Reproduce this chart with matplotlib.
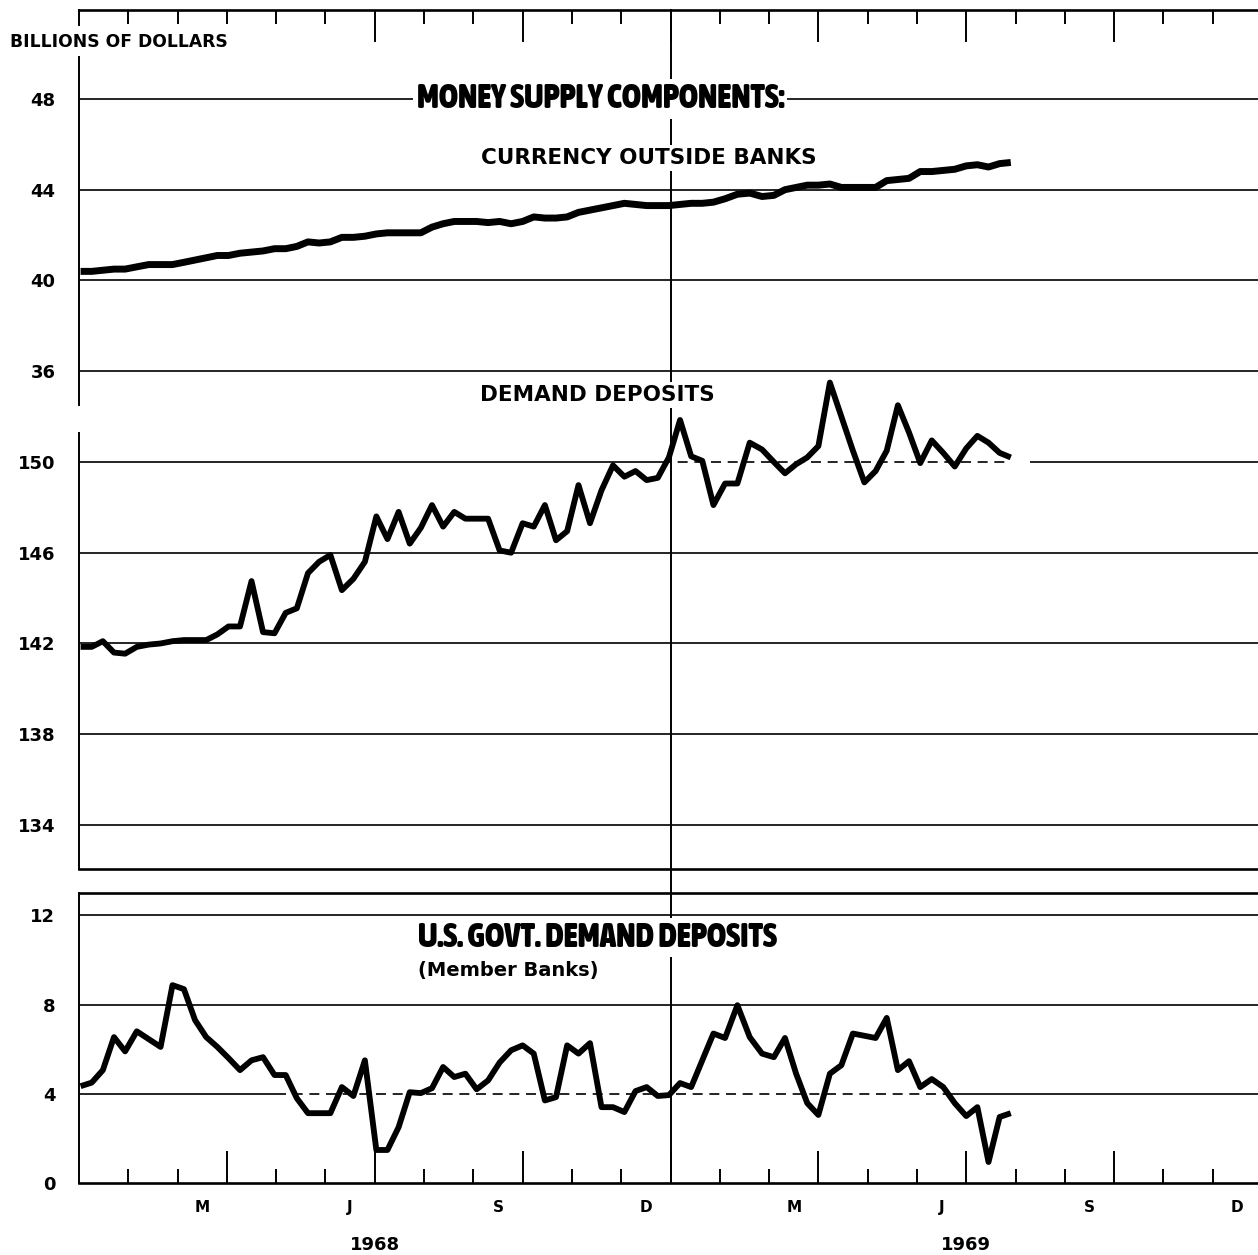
import numpy as np
import pandas as pd
import matplotlib
matplotlib.use("Agg")
import matplotlib.pyplot as plt
from matplotlib import font_manager

plt.rcParams['font.family'] = ['DejaVu Sans']
plt.rcParams['font.weight'] = 'bold'

# weekly figures, billions of dollars (first week of Jan 1968 -> end of Jul 1969)
currency = [40.4, 40.4, 40.45, 40.5, 40.5, 40.6, 40.7, 40.7, 40.7, 40.8,
            40.9, 41.0, 41.1, 41.1, 41.2, 41.25, 41.3, 41.4, 41.4, 41.5,
            41.7, 41.65, 41.7, 41.9, 41.9, 41.95, 42.05, 42.1, 42.1, 42.1,
            42.1, 42.35, 42.5, 42.6, 42.6, 42.6, 42.55, 42.6, 42.5, 42.6,
            42.8, 42.75, 42.75, 42.8, 43.0, 43.1, 43.2, 43.3, 43.4, 43.35,
            43.3, 43.3, 43.3, 43.35, 43.4, 43.4, 43.45, 43.6, 43.8, 43.85,
            43.7, 43.75, 44.0, 44.1, 44.2, 44.2, 44.25, 44.1, 44.1, 44.1,
            44.1, 44.4, 44.45, 44.5, 44.8, 44.8, 44.85, 44.9, 45.05, 45.1,
            45.0, 45.15, 45.2]
demand_dep = [141.85, 141.85, 142.1, 141.6, 141.55, 141.85, 141.95, 142.0, 142.1, 142.15,
              142.15, 142.15, 142.4, 142.75, 142.75, 144.75, 142.5, 142.45, 143.35, 143.55,
              145.1, 145.6, 145.9, 144.35, 144.85, 145.6, 147.6, 146.6, 147.8, 146.4,
              147.1, 148.1, 147.15, 147.8, 147.5, 147.5, 147.5, 146.1, 146.0, 147.3,
              147.15, 148.1, 146.55, 146.95, 148.98, 147.3, 148.75, 149.85, 149.35, 149.6,
              149.2, 149.3, 150.2, 151.85, 150.25, 150.05, 148.1, 149.05, 149.05, 150.85,
              150.55, 150.0, 149.5, 149.9, 150.2, 150.7, 153.5, 152.0, 150.5, 149.1,
              149.6, 150.5, 152.5, 151.3, 149.95, 150.95, 150.4, 149.8, 150.6, 151.15,
              150.85, 150.4, 150.2]
govt_dep = [4.34, 4.5, 5.06, 6.54, 5.9, 6.8, 6.45, 6.1, 8.87, 8.69,
            7.3, 6.54, 6.1, 5.6, 5.06, 5.5, 5.64, 4.84, 4.84, 3.8,
            3.13, 3.13, 3.13, 4.3, 3.9, 5.5, 1.48, 1.48, 2.5, 4.07,
            4.03, 4.25, 5.2, 4.75, 4.9, 4.2, 4.6, 5.4, 5.95, 6.17,
            5.8, 3.7, 3.85, 6.17, 5.8, 6.27, 3.4, 3.4, 3.18, 4.12,
            4.3, 3.9, 3.94, 4.48, 4.3, 5.5, 6.7, 6.5, 7.97, 6.54,
            5.8, 5.64, 6.5, 4.9, 3.58, 3.05, 4.9, 5.28, 6.7, 6.6,
            6.5, 7.4, 5.06, 5.46, 4.3, 4.66, 4.3, 3.58, 3.0, 3.4,
            0.94, 2.96, 3.13]

currency_ticks = [36, 40, 44, 48]
demand_ticks = [134, 138, 142, 146, 150]
govt_ticks = [0, 4, 8, 12]
month_labels = ['M', 'J', 'S', 'D', 'M', 'J', 'S', 'D']
month_label_pos = [2.5, 5.5, 8.5, 11.5, 14.5, 17.5, 20.5, 23.5]
years = ['1968', '1969']
year_pos = [6, 18]

# x axis in months since Jan 1968
dates = pd.date_range('1968-01-02', periods=len(currency), freq='7D')
x = (dates.year - 1968) * 12 + dates.month - 1 + (dates.day - 1) / dates.days_in_month
x = np.asarray(x, dtype=float)

# a narrow heavy face for the two big headings, if one is installed
def pick_condensed():
    best = None
    for f in font_manager.fontManager.ttflist:
        nm = (f.name + ' ' + str(f.fname)).lower()
        narrow = f.stretch in ('condensed', 'semi-condensed', 'extra-condensed') or 'condensed' in nm or 'narrow' in nm
        w = f.weight if isinstance(f.weight, int) else 700
        if narrow and w >= 600 and 'italic' not in nm and 'oblique' not in nm:
            if best is None or w > best[0]:
                best = (w, f.fname)
    if best:
        return font_manager.FontProperties(fname=best[1])
    return font_manager.FontProperties(family='Roboto', weight=900)

head_font = pick_condensed()

W, H = 1258, 1255
fig = plt.figure(figsize=(W / 100, H / 100), dpi=100)

left = 79 / W
width = (1262 - 79) / W
ax = fig.add_axes([left, 1 - 869 / H, width, (869 - 10) / H])
ax2 = ax.twinx()
axb = fig.add_axes([left, 1 - 1183 / H, width, (1183 - 893) / H])

ax.set_xlim(0, 24)
axb.set_xlim(0, 24)
ax.set_ylim(14.06, 51.92)
ax2.set_ylim(14.06 + 118, 51.92 + 118)
axb.set_ylim(0, 13)

grid_kw = dict(color='black', lw=1.2, zorder=1)
for v in currency_ticks:
    ax.axhline(v, **grid_kw)
for v in demand_ticks:
    if v == 150:
        ax2.hlines(v, 0, 11.8, **grid_kw)
        ax2.hlines(v, 11.8, 18.9, linestyles=(0, (6, 4)), **grid_kw)
        ax2.hlines(v, 19.3, 24, **grid_kw)
    else:
        ax2.axhline(v, **grid_kw)
for v in govt_ticks[1:]:
    if v == 4:
        axb.hlines(v, 0, 4.0, **grid_kw)
        axb.hlines(v, 4.0, 17.7, linestyles=(0, (6, 4)), **grid_kw)
        axb.hlines(v, 17.7, 24, **grid_kw)
    else:
        axb.axhline(v, **grid_kw)

# year divider
ax.axvline(12, ymin=-0.03, ymax=1, color='black', lw=1.4, clip_on=False, zorder=1)
axb.axvline(12, color='black', lw=1.4, zorder=1)

# series
ax.plot(x, currency, color='black', lw=5.0, solid_capstyle='butt', zorder=3)
ax2.plot(x, demand_dep, color='black', lw=4.2, solid_capstyle='butt', zorder=3)
axb.plot(x, govt_dep, color='black', lw=4.2, solid_capstyle='butt', zorder=3)

# frames
for a in (ax, axb):
    a.spines['left'].set_visible(False)
    a.spines['right'].set_linewidth(1.5)
    for s in ('top', 'bottom'):
        a.spines[s].set_linewidth(1.9)
for s in ax2.spines.values():
    s.set_visible(False)
spine_kw = dict(color='black', lw=1.4, clip_on=False)
ax.plot([0, 0], [0.0, (869 - 433) / 859], transform=ax.transAxes, **spine_kw)
ax.plot([0, 0], [(869 - 405) / 859, (869 - 57) / 859], transform=ax.transAxes, **spine_kw)
ax.plot([0, 0], [(869 - 25) / 859, 1.0], transform=ax.transAxes, **spine_kw)
axb.plot([0, 0], [0, 1], transform=axb.transAxes, **spine_kw)

# month ticks (long ones at quarters; the April 1968 one on top stays short under the unit label)
top_long = [6, 9, 12, 15, 18, 21]
bot_long = [3, 6, 9, 12, 15, 18, 21]
for a, side, longs in ((ax, 'top', top_long), (axb, 'bottom', bot_long)):
    a.set_xticks(longs)
    a.set_xticks([m for m in range(1, 24) if m not in longs], minor=True)
    a.tick_params(axis='x', which='major', direction='in', length=23, width=1.4,
                  top=(side == 'top'), bottom=(side == 'bottom'), labeltop=False, labelbottom=False)
    a.tick_params(axis='x', which='minor', direction='in', length=10, width=1.4,
                  top=(side == 'top'), bottom=(side == 'bottom'), labeltop=False, labelbottom=False)

# y tick labels on the left
ax.set_yticks(currency_ticks)
ax2.set_yticks(demand_ticks)
axb.set_yticks(govt_ticks)
ax2.yaxis.tick_left()
for a in (ax, ax2, axb):
    a.tick_params(axis='y', which='both', length=0, pad=17, labelsize=13,
                  left=False, right=False, labelleft=True, labelright=False)

# month / year labels
tr = axb.get_xaxis_transform()
for pos, lab in zip(month_label_pos, month_labels):
    axb.text(pos, -0.086, lab, transform=tr, ha='center', va='center', fontsize=11)
for pos, lab in zip(year_pos, years):
    axb.text(pos, -0.214, lab, transform=tr, ha='center', va='center', fontsize=13)

# titles
white = dict(facecolor='white', edgecolor='none', pad=2)
t1 = ax.text(6.85, 48, 'MONEY SUPPLY COMPONENTS:', ha='left', va='center',
             fontproperties=head_font, fontsize=20, bbox=white, zorder=2)
t2 = axb.text(6.87, 11.0, 'U.S. GOVT. DEMAND DEPOSITS', ha='left', va='center',
              fontproperties=head_font, fontsize=20, bbox=white, zorder=2)
ax.text(8.15, 45.4, 'CURRENCY OUTSIDE BANKS', ha='left', va='center',
        fontsize=15.5, bbox=white, zorder=2)
ax2.text(8.14, 152.95, 'DEMAND DEPOSITS', ha='left', va='center',
         fontsize=15.5, bbox=white, zorder=2)
axb.text(6.87, 9.54, '(Member Banks)', ha='left', va='center', fontsize=14, zorder=2)
fig.text(10 / W, 1 - 42 / H, 'BILLIONS OF DOLLARS', ha='left', va='center', fontsize=12.3)

# fit the two headings to the width they take on the page (~368 px and ~360 px)
fig.canvas.draw()
rend = fig.canvas.get_renderer()
for t, target in ((t1, 368), (t2, 360)):
    w = t.get_window_extent(rend).width
    t.set_fontsize(20 * target / w)

fig.savefig('out.png', dpi=100)
